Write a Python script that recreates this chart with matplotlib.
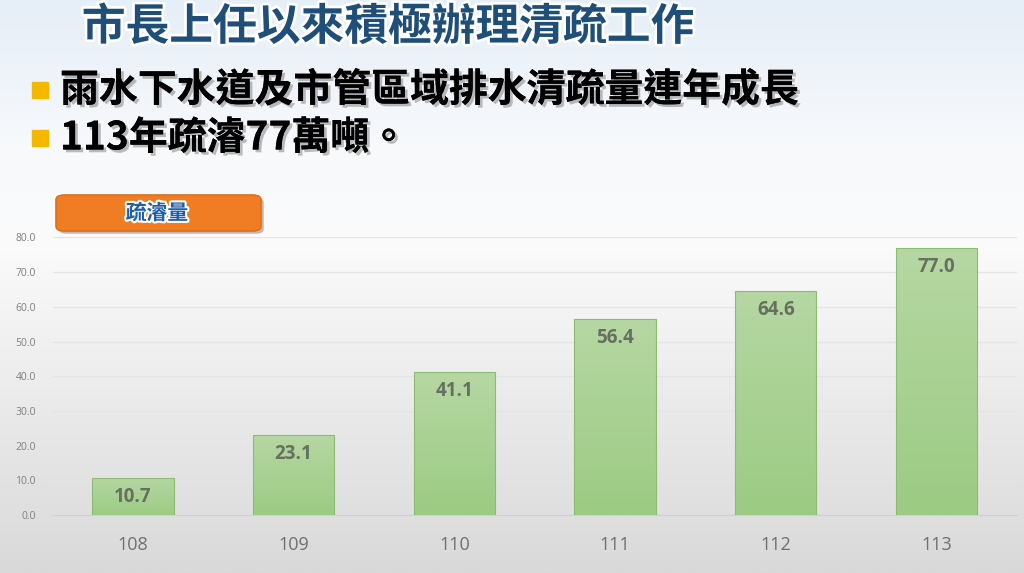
import numpy as np
import matplotlib
matplotlib.use("Agg")
import matplotlib.pyplot as plt
import matplotlib.patheffects as pe
from matplotlib.patches import FancyBboxPatch, Rectangle
from matplotlib.colors import LinearSegmentedColormap

plt.rcParams['font.family'] = ['Noto Sans CJK TC', 'DejaVu Sans']

# data
years = ['108', '109', '110', '111', '112', '113']
dredged = [10.7, 23.1, 41.1, 56.4, 64.6, 77.0]
yticks = [0, 10, 20, 30, 40, 50, 60, 70, 80]

title = '市長上任以來積極辦理清疏工作'
bullets = ['雨水下水道及市管區域排水清疏量連年成長', '113年疏濬77萬噸。']
badge = '疏濬量'

W, H = 1024, 573
fig = plt.figure(figsize=(W / 100, H / 100), dpi=100)

# background gradient: pale blue-white at top, grey at bottom
bg = fig.add_axes([0, 0, 1, 1])
bg_cmap = LinearSegmentedColormap.from_list('bg', [
    (0.0, '#e6eef7'), (0.25, '#f7f9fc'), (0.42, '#fbfbfb'), (1.0, '#d9d9d9')])
bg.imshow(np.linspace(0, 1, 256).reshape(-1, 1), aspect='auto', cmap=bg_cmap,
          extent=[0, 1, 0, 1], origin='upper')
bg.set_xlim(0, 1)
bg.set_ylim(0, 1)
bg.axis('off')


def fx(px):
    return px / W


def fy(py):
    return 1 - py / H


# headline
bg.text(fx(388), fy(27), title, fontsize=31.5, fontweight='bold', color='#1f4e79',
        ha='center', va='center',
        path_effects=[pe.withStroke(linewidth=4, foreground='white')])

for i, line in enumerate(bullets):
    yc = 90 + i * 48
    bg.add_patch(Rectangle((fx(32), fy(yc + 8)), 16 / W, 16 / H,
                           color='#f5b800', transform=bg.transAxes))
    bg.text(fx(60), fy(yc), line, fontsize=28, fontweight='bold', color='black',
            ha='left', va='center',
            path_effects=[pe.withSimplePatchShadow(offset=(2, -2), alpha=0.25),
                          pe.Normal()])

# orange badge
bg.add_patch(FancyBboxPatch((fx(56), fy(231)), 205 / W, 36 / H,
                            boxstyle='round,pad=0,rounding_size=0.008',
                            facecolor='#f07c24', edgecolor='#e06a10', lw=0.8,
                            transform=bg.transAxes,
                            path_effects=[pe.withSimplePatchShadow(offset=(2, -2), alpha=0.3),
                                          pe.Normal()]))
bg.text(fx(157), fy(213), badge, fontsize=15, fontweight='bold', color='#1f5fa8',
        ha='center', va='center',
        path_effects=[pe.withStroke(linewidth=3, foreground='white')])

# chart axes
left, right = 52.6, 1016.8
top, bottom = 237.5, 515
ax = fig.add_axes([fx(left), fy(bottom), (right - left) / W, (bottom - top) / H])
ax.patch.set_alpha(0)
x = np.arange(len(years))
bars = ax.bar(x, dredged, width=0.505, color='none', edgecolor='#8dbb72',
              linewidth=0.8, zorder=3)

bar_cmap = LinearSegmentedColormap.from_list('bar', ['#b6d7a3', '#9ccb83'])
grad = np.linspace(0, 1, 128).reshape(-1, 1)
for b in bars:
    x0, y0 = b.get_x(), b.get_y()
    im = ax.imshow(grad, aspect='auto', cmap=bar_cmap, origin='upper',
                   extent=[x0, x0 + b.get_width(), y0, y0 + b.get_height()],
                   zorder=2)
    im.set_clip_path(b)

for xi, v in zip(x, dredged):
    ax.text(xi, v - 2.6, f'{v:.1f}', ha='center', va='top', fontsize=13.5,
            fontweight='bold', color='#66705f', family=['Open Sans', 'DejaVu Sans'],
            zorder=4)

ax.set_xlim(-0.5, 5.5)
ax.set_ylim(0, 80)
ax.set_yticks(yticks)
ax.set_yticklabels([f'{t:.1f}' for t in yticks], fontsize=7.5, color='#7f7f7f',
                   family=['Open Sans', 'DejaVu Sans'])
ax.set_xticks(x)
ax.set_xticklabels(years, fontsize=13, color='#6f6f6f',
                   family=['Open Sans', 'DejaVu Sans'])
ax.tick_params(axis='both', length=0)
ax.tick_params(axis='x', pad=15)
ax.tick_params(axis='y', pad=12)
ax.grid(axis='y', color='#e4e4e4', linewidth=0.9, zorder=0)
for s in ax.spines.values():
    s.set_visible(False)
ax.spines['bottom'].set_visible(True)
ax.spines['bottom'].set_color('#d0d0d0')

fig.savefig('out.png', dpi=100)
